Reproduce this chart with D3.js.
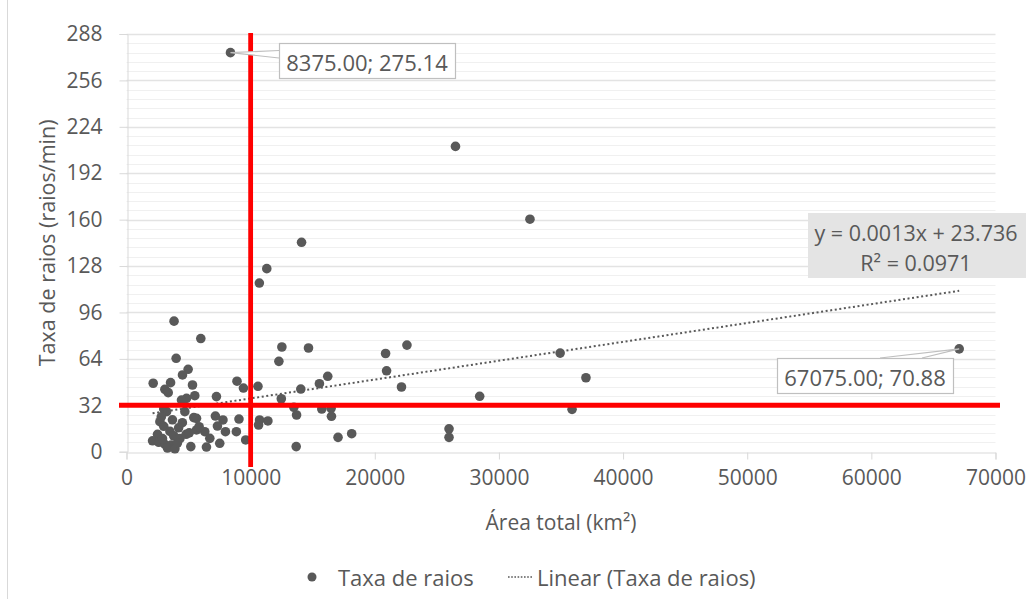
<!DOCTYPE html>
<html>
<head>
<meta charset="utf-8">
<script src="https://cdn.jsdelivr.net/npm/d3@7"></script>
<style>
  body { margin: 0; background: #fff; }
  svg { display: block; font-family: "Open Sans", "Noto Sans", sans-serif; }
</style>
</head>
<body>
<svg id="chart" width="1035" height="599"></svg>
<script>
// Área total (km²) per unit and its lightning rate (raios/min)
const areaKm2 = [
  8375, 26500, 32500, 14100, 11300, 10700, 3830, 5985, 4000, 67075,
  34930, 37010, 20870, 22590, 20950, 22150, 28450, 35890, 25980, 25980,
  18140, 17040, 13670, 12515, 14660, 12275, 16210, 15540, 14040, 10590,
  12470, 13480, 13700, 15730, 16480, 16510, 10720, 10640, 11390, 9600,
  4965, 4510, 2150, 3550, 3090, 3360, 5315, 5500, 4835, 4430,
  7245, 8900, 9420, 7160, 7770, 7325, 7970, 9060, 8850, 6710,
  6305, 7510, 6440, 5640, 5640, 2690, 3230, 3000, 4700, 5420,
  5850, 3000, 3500, 4200, 2500, 3800, 4300, 2100, 2600, 3100,
  3600, 2900, 3300, 3900, 4100, 4800, 4500, 3700, 2800, 5180,
  5050
];
const taxaRaios = [
  275.14, 210.5, 160.3, 144.4, 126.2, 116.3, 90.0, 78.0, 64.4, 70.88,
  68.0, 51.0, 67.7, 73.5, 55.8, 44.6, 38.2, 29.2, 15.8, 9.9,
  12.4, 9.9, 3.5, 72.2, 71.5, 62.3, 52.0, 46.9, 43.2, 45.1,
  36.5, 30.6, 25.3, 29.4, 29.9, 24.4, 21.9, 18.4, 21.2, 8.1,
  56.8, 52.9, 47.2, 47.6, 43.0, 40.7, 46.0, 38.6, 36.8, 35.6,
  38.0, 48.6, 43.9, 24.6, 21.9, 17.7, 13.8, 22.5, 13.8, 9.2,
  13.8, 5.8, 3.2, 15.0, 23.0, 20.7, 27.6, 29.5, 27.6, 23.5,
  17.2, 17.5, 14.0, 16.5, 12.0, 11.0, 9.0, 7.5, 6.5, 5.0,
  4.5, 9.0, 2.5, 2.0, 6.0, 12.0, 20.0, 22.0, 24.0, 3.5,
  13.0
];

const xTickValues = [0, 10000, 20000, 30000, 40000, 50000, 60000, 70000];
const yTickValues = [0, 32, 64, 96, 128, 160, 192, 224, 256, 288];
const yMinorStep = 6.4;

// Linear trend reported for the series
const trendSlope = 0.0013;
const trendIntercept = 23.736;
const trendR2 = 0.0971;

// Reference thresholds drawn as red guide lines
const areaThreshold = 10000;
const rateThreshold = 32;

// Points carrying value callouts
const calloutIndex = [0, 9];

const svg = d3.select("#chart");
const textColor = "#595959";
const pointColor = "#595959";

const x = d3.scaleLinear().domain([0, 70000]).range([126.5, 995.5]);
const y = d3.scaleLinear().domain([0, 288]).range([451.7, 34]);

// outer chart border
svg.append("rect")
  .attr("x", 7.5).attr("y", -2).attr("width", 1040).attr("height", 610)
  .attr("fill", "none").attr("stroke", "#d9d9d9").attr("stroke-width", 1);

// minor horizontal gridlines
const minorVals = d3.range(0, 288.001, yMinorStep).filter(v => Math.abs(v / 32 - Math.round(v / 32)) > 1e-6);
svg.append("g").selectAll("line").data(minorVals).join("line")
  .attr("x1", x(0)).attr("x2", x(70000))
  .attr("y1", d => Math.round(y(d)) + 0.5).attr("y2", d => Math.round(y(d)) + 0.5)
  .attr("stroke", "#f0f0f0").attr("stroke-width", 1);

// major horizontal gridlines
svg.append("g").selectAll("line").data(yTickValues.filter(v => v > 0)).join("line")
  .attr("x1", x(0)).attr("x2", x(70000))
  .attr("y1", d => Math.round(y(d)) + 0.5).attr("y2", d => Math.round(y(d)) + 0.5)
  .attr("stroke", "#e3e3e3").attr("stroke-width", 1.3);

// Y axis
const yAxis = svg.append("g")
  .attr("transform", `translate(${Math.round(x(0)) + 0.5},0)`)
  .call(d3.axisLeft(y).tickValues(yTickValues).tickSize(8).tickPadding(17).tickFormat(d3.format("d")));
yAxis.select(".domain").attr("stroke", "#d9d9d9");
yAxis.selectAll(".tick line").attr("stroke", "#d9d9d9");
yAxis.selectAll(".tick text").attr("fill", textColor).attr("font-size", 21)
  .attr("font-family", "'Open Sans', sans-serif");

// X axis
const xAxis = svg.append("g")
  .attr("transform", `translate(0,${Math.round(y(0)) + 0.5})`)
  .call(d3.axisBottom(x).tickValues(xTickValues).tickSize(7).tickPadding(11).tickFormat(d3.format("d")));
xAxis.select(".domain").attr("stroke", "#d9d9d9");
xAxis.selectAll(".tick line").attr("stroke", "#d9d9d9");
xAxis.selectAll(".tick text").attr("fill", textColor).attr("font-size", 21)
  .attr("font-family", "'Open Sans', sans-serif");

// axis titles
svg.append("text")
  .attr("transform", `translate(46,${(y(0) + y(288)) / 2}) rotate(-90)`)
  .attr("text-anchor", "middle").attr("dominant-baseline", "central")
  .attr("fill", textColor).attr("font-size", 21.5)
  .text("Taxa de raios (raios/min)");

svg.append("text")
  .attr("x", (x(0) + x(70000)) / 2).attr("y", 522)
  .attr("text-anchor", "middle").attr("dominant-baseline", "central")
  .attr("fill", textColor).attr("font-size", 21)
  .text("Área total (km²)");

// scatter points
const pts = areaKm2.map((a, i) => ({ a, r: taxaRaios[i] }));
svg.append("g").selectAll("circle").data(pts).join("circle")
  .attr("cx", d => x(d.a)).attr("cy", d => y(d.r)).attr("r", 4.8)
  .attr("fill", pointColor);

// linear trendline across the observed area range
const [aMin, aMax] = d3.extent(areaKm2);
const trend = d3.line().x(d => x(d)).y(d => y(trendSlope * d + trendIntercept));
svg.append("path")
  .datum([aMin, aMax])
  .attr("d", trend)
  .attr("fill", "none").attr("stroke", "#595959")
  .attr("stroke-width", 2).attr("stroke-dasharray", "2 2.6");

// red guide lines
svg.append("line")
  .attr("x1", x(areaThreshold)).attr("x2", x(areaThreshold))
  .attr("y1", y(288) - 1).attr("y2", 467)
  .attr("stroke", "#ff0000").attr("stroke-width", 4.8);
svg.append("line")
  .attr("x1", 119).attr("x2", 1000)
  .attr("y1", y(rateThreshold)).attr("y2", y(rateThreshold))
  .attr("stroke", "#ff0000").attr("stroke-width", 5);

// value callouts
const fmt = d3.format(".2f");
const callouts = [
  { i: calloutIndex[0], box: [279, 43, 176, 35], tip: [[279, 50.5], [279, 58]] },
  { i: calloutIndex[1], box: [777, 358, 176, 35], tip: [[880, 358], [922, 358]] }
];
callouts.forEach(c => {
  const px = x(areaKm2[c.i]), py = y(taxaRaios[c.i]);
  const [bx, by, bw, bh] = c.box;
  svg.append("path")
    .attr("d", `M${c.tip[0][0]},${c.tip[0][1]} L${px},${py} L${c.tip[1][0]},${c.tip[1][1]}`)
    .attr("fill", "#fff").attr("stroke", "#bfbfbf").attr("stroke-width", 1.2);
  svg.append("rect")
    .attr("x", bx + 0.5).attr("y", by + 0.5).attr("width", bw).attr("height", bh)
    .attr("fill", "#fff").attr("stroke", "#bfbfbf").attr("stroke-width", 1.2);
  svg.append("text")
    .attr("x", bx + bw / 2).attr("y", by + bh / 2 + 1)
    .attr("text-anchor", "middle").attr("dominant-baseline", "central")
    .attr("fill", textColor).attr("font-size", 22)
    .text(`${fmt(areaKm2[c.i])}; ${fmt(taxaRaios[c.i])}`);
});

// trend equation label
svg.append("rect")
  .attr("x", 808).attr("y", 213).attr("width", 218).attr("height", 65)
  .attr("fill", "#e4e4e4");
svg.append("text")
  .attr("x", 916).attr("y", 232)
  .attr("text-anchor", "middle").attr("dominant-baseline", "central")
  .attr("fill", textColor).attr("font-size", 21.5)
  .text(`y = ${trendSlope.toFixed(4)}x + ${trendIntercept}`);
svg.append("text")
  .attr("x", 916).attr("y", 262)
  .attr("text-anchor", "middle").attr("dominant-baseline", "central")
  .attr("fill", textColor).attr("font-size", 21.5)
  .text(`R² = ${trendR2}`);

// legend
const legY = 577;
svg.append("circle").attr("cx", 312).attr("cy", legY).attr("r", 4.5).attr("fill", pointColor);
svg.append("text").attr("x", 338).attr("y", legY)
  .attr("dominant-baseline", "central").attr("fill", textColor).attr("font-size", 22)
  .text("Taxa de raios");
svg.append("line").attr("x1", 508).attr("x2", 533).attr("y1", legY).attr("y2", legY)
  .attr("stroke", "#595959").attr("stroke-width", 1.6).attr("stroke-dasharray", "1.6 1.6");
svg.append("text").attr("x", 537).attr("y", legY)
  .attr("dominant-baseline", "central").attr("fill", textColor).attr("font-size", 22)
  .text("Linear (Taxa de raios)");
</script>
</body>
</html>
